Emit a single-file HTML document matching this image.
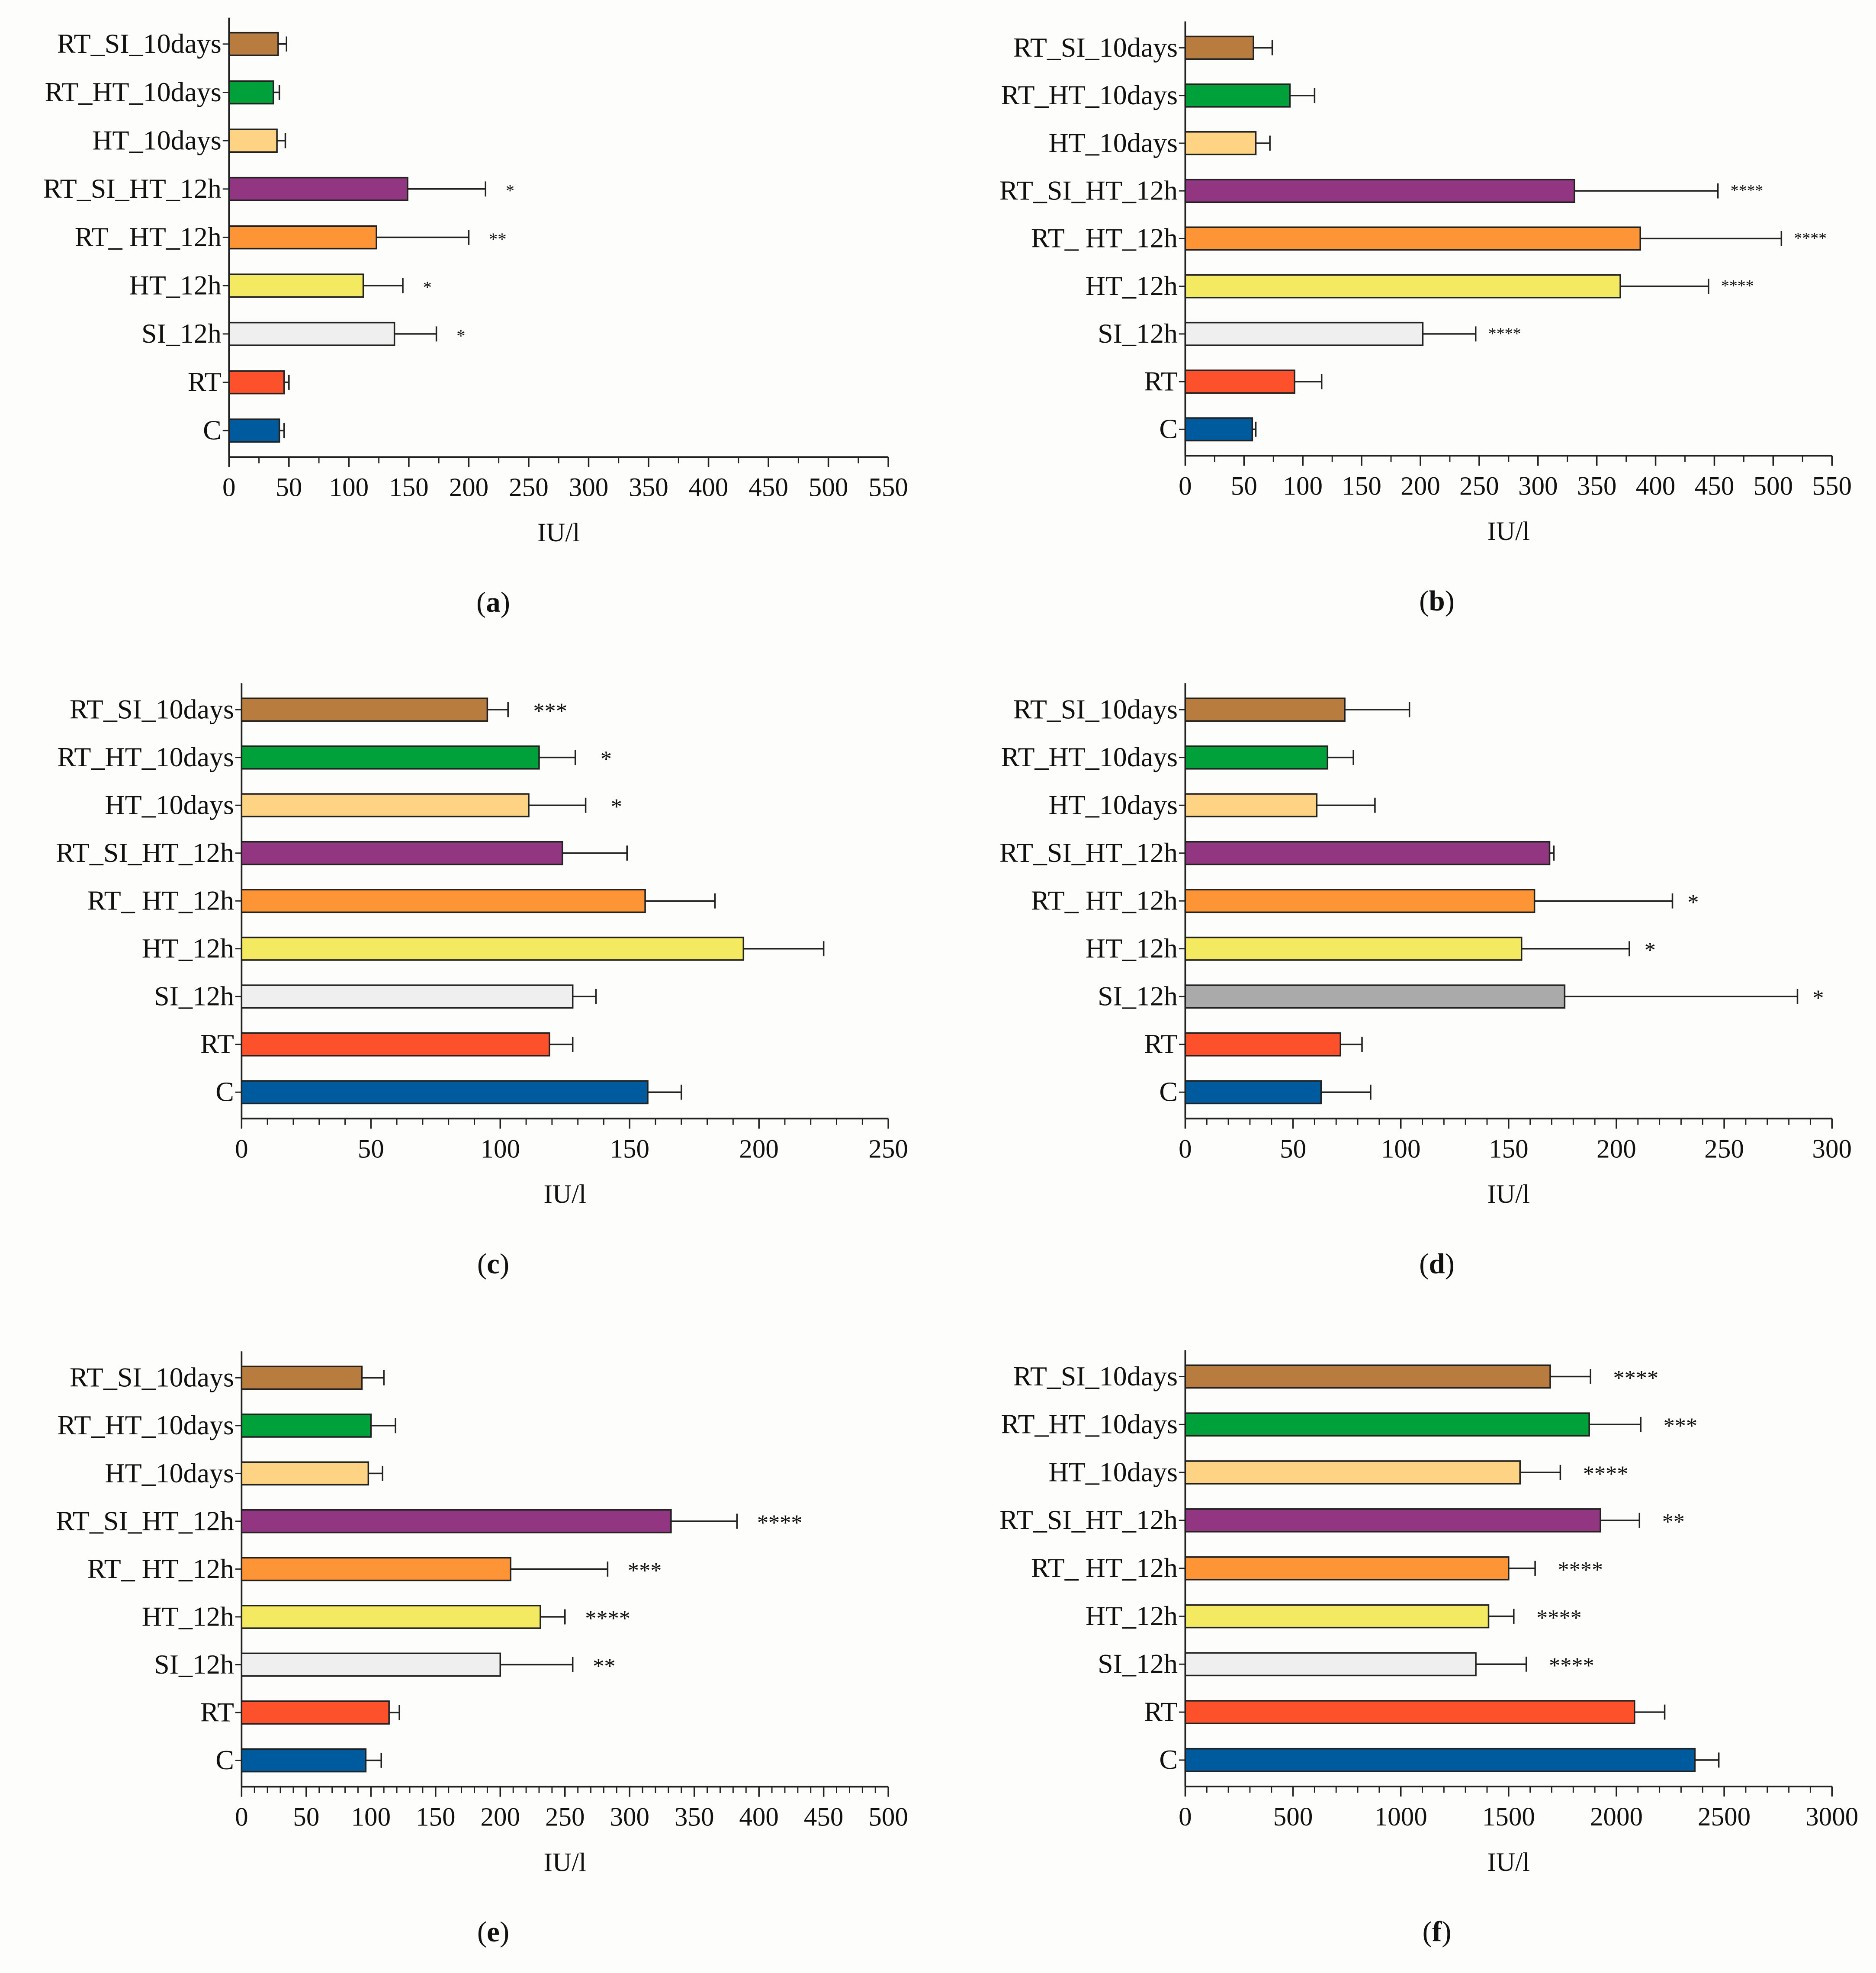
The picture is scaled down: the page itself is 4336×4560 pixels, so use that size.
<!DOCTYPE html>
<html><head><meta charset="utf-8"><style>
html,body{margin:0;padding:0;background:#fdfdfb}
svg{display:block}
text{font-family:"Liberation Serif",serif;fill:#111}
</style></head><body>
<svg id="fig" width="4336" height="4560" viewBox="0 0 1500 1577.5" xmlns="http://www.w3.org/2000/svg">
<rect width="1500" height="1577.5" fill="#fdfdfb"/>
<g id="root" transform="scale(1.00604)"></g>
</svg>
<script>
const categories = ["RT_SI_10days","RT_HT_10days","HT_10days","RT_SI_HT_12h","RT_ HT_12h","HT_12h","SI_12h","RT","C"];
const colors = ["#b87c3e","#00a03a","#fed384","#923682","#fd9537","#f3ea62","#efefef","#fd512b","#005b9e"];
const valuesA = [41,37,40,149,123,112,138,46,42];
const errA = [48,42,47,214,200,145,173,50,46];
const sigA = ["","","","*","**","*","*","",""];
const valuesB = [58,89,60,331,387,370,202,93,57];
const errB = [74,110,72,453,507,445,247,116,60];
const sigB = ["","","","****","****","****","****","",""];
const valuesC = [95,115,111,124,156,194,128,119,157];
const errC = [103,129,133,149,183,225,137,128,170];
const sigC = ["***","*","*","","","","","",""];
const valuesD = [74,66,61,169,162,156,176,72,63];
const errD = [104,78,88,171,226,206,284,82,86];
const sigD = ["","","","","*","*","*","",""];
const valuesE = [93,100,98,332,208,231,200,114,96];
const errE = [110,119,109,383,283,250,256,122,108];
const sigE = ["","","","****","***","****","**","",""];
const valuesF = [1693,1874,1553,1926,1500,1407,1348,2084,2364];
const errF = [1880,2113,1740,2107,1623,1524,1582,2224,2475];
const sigF = ["****","***","****","**","****","****","****","",""];
const ticksA = [0,50,100,150,200,250,300,350,400,450,500,550];
const ticksC = [0,50,100,150,200,250];
const ticksD = [0,50,100,150,200,250,300];
const ticksE = [0,50,100,150,200,250,300,350,400,450,500];
const ticksF = [0,500,1000,1500,2000,2500,3000];

const NS="http://www.w3.org/2000/svg";
const root=document.getElementById('root');
function mk(tag,attrs,parent,txt){const e=document.createElementNS(NS,tag);for(const k in attrs)e.setAttribute(k,attrs[k]);if(txt!==undefined)e.textContent=txt;parent.appendChild(e);return e;}

function panel(o){
  const g=mk('g',{},root);
  
  
  const W=o.w,x0=o.x0,x1=o.x0+W,max=o.ticks[o.ticks.length-1];
  const sx=v=>x0+v/max*W;
  const rowY=i=>o.y0+i*o.dy;
  const axY=rowY(8)+21;
  const ya=mk('line',{x1:x0,y1:rowY(0)-21,x2:x0,y2:axY,stroke:'#222','stroke-width':1.3},g);
  
  
  categories.forEach((c,i)=>{
    const y=rowY(i);
    mk('line',{x1:x0-5,y1:y,x2:x0,y2:y,stroke:'#222','stroke-width':1},g);
    const t=mk('text',{x:x0-6,y:y+7,'text-anchor':'end','font-size':22},g,c);
    
    
    const v=o.vals[i],e=o.errs[i];
    const eb=mk('g',{},g);
    
    
    mk('line',{x1:sx(v),y1:y,x2:sx(e),y2:y,stroke:'#222','stroke-width':1.2},eb);
    mk('line',{x1:sx(e),y1:y-6,x2:sx(e),y2:y+6,stroke:'#222','stroke-width':1.2},eb);
    const b=mk('rect',{x:x0,y:y-9,width:sx(v)-x0,height:18,fill:(o.colorOverride&&o.colorOverride[i])||colors[i],stroke:'#222','stroke-width':1.2},g);
    
    
    if(o.sig[i]){
      const s=mk('text',{x:sx(e)+o.sigGap,y:y+o.sigDy,'font-size':o.sigSize},g,o.sig[i]);
      
      
    }
  });
  const xa=mk('line',{x1:x0,y1:axY,x2:x1,y2:axY,stroke:'#222','stroke-width':1.3},g);
  
  
  for(let v=0;v<=max+1e-9;v+=o.minor){
    mk('line',{x1:sx(v),y1:axY,x2:sx(v),y2:axY+5,stroke:'#222','stroke-width':1},g);
  }
  o.ticks.forEach(v=>{
    mk('line',{x1:sx(v),y1:axY,x2:sx(v),y2:axY+8,stroke:'#222','stroke-width':1.2},g);
    const t=mk('text',{x:sx(v),y:axY+31,'text-anchor':'middle','font-size':21},g,String(v));
    
    
  });
  const ti=mk('text',{x:o.titleX,y:axY+67,'text-anchor':'middle','font-size':21},g,'IU/l');
  
  
  const pl=mk('text',{x:o.letterX,y:axY+123,'text-anchor':'middle','font-size':23},g,'');
  
  
  mk('tspan',{},pl,'(');
  mk('tspan',{'font-weight':'bold'},pl,o.letter);
  mk('tspan',{},pl,')');
}
panel({letter:'a',x0:182,w:524,y0:35,dy:38.4,ticks:ticksA,minor:25,vals:valuesA,errs:errA,sig:sigA,titleX:444,letterX:392,sigGap:16,sigDy:6,sigSize:14});
panel({letter:'b',x0:942,w:514,y0:38,dy:37.9,ticks:ticksA,minor:25,vals:valuesB,errs:errB,sig:sigB,titleX:1199,letterX:1142,sigGap:10,sigDy:4,sigSize:13});
panel({letter:'c',x0:192,w:514,y0:564,dy:38,ticks:ticksC,minor:10,vals:valuesC,errs:errC,sig:sigC,titleX:449,letterX:392,sigGap:20,sigDy:7,sigSize:18});
panel({letter:'d',x0:942,w:514,y0:564,dy:38,ticks:ticksD,minor:10,vals:valuesD,errs:errD,sig:sigD,titleX:1199,letterX:1142,sigGap:12,sigDy:7,sigSize:18,colorOverride:{6:'#aaaaaa'}});
panel({letter:'e',x0:192,w:514,y0:1095,dy:38,ticks:ticksE,minor:10,vals:valuesE,errs:errE,sig:sigE,titleX:449,letterX:392,sigGap:16,sigDy:7,sigSize:18});
panel({letter:'f',x0:942,w:514,y0:1094,dy:38.1,ticks:ticksF,minor:100,vals:valuesF,errs:errF,sig:sigF,titleX:1199,letterX:1142,sigGap:18,sigDy:7,sigSize:18});
</script>
</body></html>
